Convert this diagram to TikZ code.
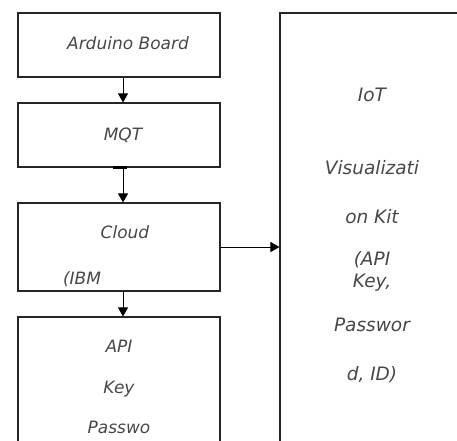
\documentclass[tikz,border=0pt]{standalone}
\usepackage{fontspec}
\setmainfont{DejaVu Sans}
\usepackage[x11names]{xcolor}
\usetikzlibrary{arrows.meta}
\tikzset{
    blk/.style={draw=black!85, line width=1.1pt, minimum width=202pt, inner sep=0pt},
    txt/.style={text=black!72, font=\fontsize{17}{20}\selectfont\itshape},
    flow/.style={line width=1pt, -{Triangle[width=10pt,length=9pt]}}
}
\begin{document}
\begin{tikzpicture}[x=1pt, y=-1pt]
            %Frame
        \useasboundingbox (0,0) rectangle (457,440);
        \clip (0,0) rectangle (457,440);
            %Left column
        \node[blk, minimum height=64pt] (arduino) at (119,45) {};
        \node[blk, minimum height=64pt] (mqt) at (119,135) {};
        \node[blk, minimum height=88pt] (cloud) at (119,247) {};
        \node[blk, minimum height=150pt] (api) at (119,392) {};
        \node[txt, align=center] (apitxt) at (119,387)
            {API\\[21pt]Key\\[20pt]Passwo};
            %Right column
        \node[blk, minimum width=184pt, minimum height=444pt, txt,
              font=\fontsize{18.5}{21}\selectfont\itshape, align=center] (iot) at (372,235)
            {IoT\\[52pt]Visualizati\\[28pt]on Kit\\[21pt](API\\[1pt]Key,\\[23pt]Passwor\\[28pt]d, ID)};
            %Labels
        \node[txt] (ardtxt) at (128,43) {Arduino Board};
        \node[txt] (mqttxt) at (123,135) {MQT};
        \node[txt] (cloudtxt) at (125,232) {Cloud};
        \node[txt] (ibm) at (82,279) {(IBM};
            %Arrows
        \draw[flow] ([xshift=4pt]arduino.south) -- ([xshift=4pt]mqt.north);
        \draw[line width=2.5pt] ([xshift=-6pt]mqt.south) -- ([xshift=8pt]mqt.south);
        \draw[flow] ([xshift=4pt]mqt.south) -- ([xshift=4pt]cloud.north);
        \draw[flow] ([xshift=4pt]cloud.south) -- ([xshift=4pt]api.north);
        \draw[flow] (cloud.east) -- (cloud.east -| iot.west);
    \end{tikzpicture}
\end{document}
